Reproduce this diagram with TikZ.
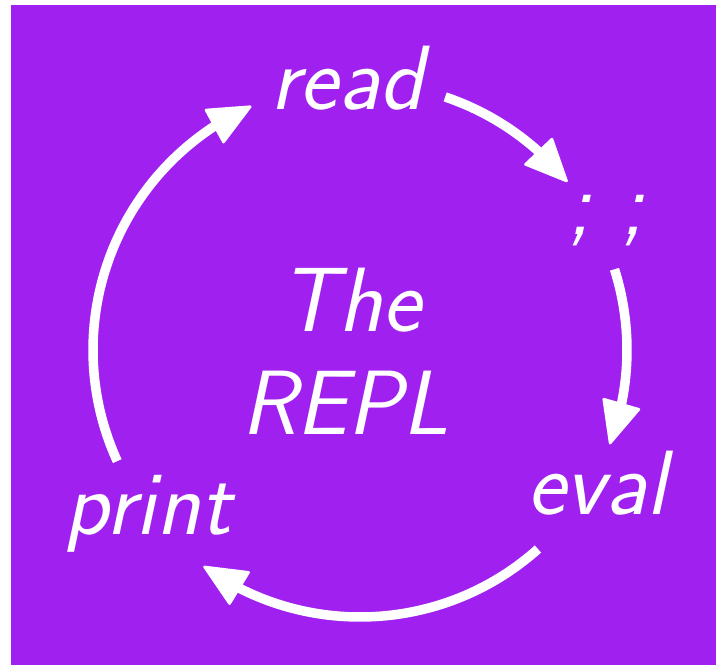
\documentclass[tikz,border=0pt]{standalone}
\usetikzlibrary{arrows.meta,bending}
\definecolor{bg}{HTML}{A020F0}
\tikzset{
  lbl/.style={text=white,anchor=base,inner sep=0pt,font=\fontsize{52}{62}\selectfont\sffamily\slshape},
  flow/.style={draw=white,line width=9.5*0.02cm,
    -{Triangle[length=0.9cm,width=0.8cm,round,line width=1.5pt]}}
}
\begin{document}
\begin{tikzpicture}[x=0.02cm,y=0.02cm]
\useasboundingbox (0,0) rectangle (716,665);
\fill[bg] (11,0) rectangle (716,660);
\coordinate (c) at (360,315);
\node[lbl] (read) at (347,555) {read};
\node[lbl] (semi) at (606,430) {; ;};
\node[lbl] (eval) at (597,150) {eval};
\node[lbl] (print) at (148,130) {print};
\node[lbl] (repl) at (350,333) {The};
\node[lbl] (repl2) at (345,230) {REPL};
\draw[flow] ([shift={(71.4:267)}]c) arc[start angle=71.4,end angle=39,radius=267];
\draw[flow] ([shift={(17.6:267)}]c) arc[start angle=17.6,end angle=-20.7,radius=267];
\draw[flow] ([shift={(-48.2:267)}]c) arc[start angle=-48.2,end angle=-125.9,radius=267];
\draw[flow] ([shift={(204.6:267)}]c) arc[start angle=204.6,end angle=114,radius=267];
\end{tikzpicture}
\end{document}
